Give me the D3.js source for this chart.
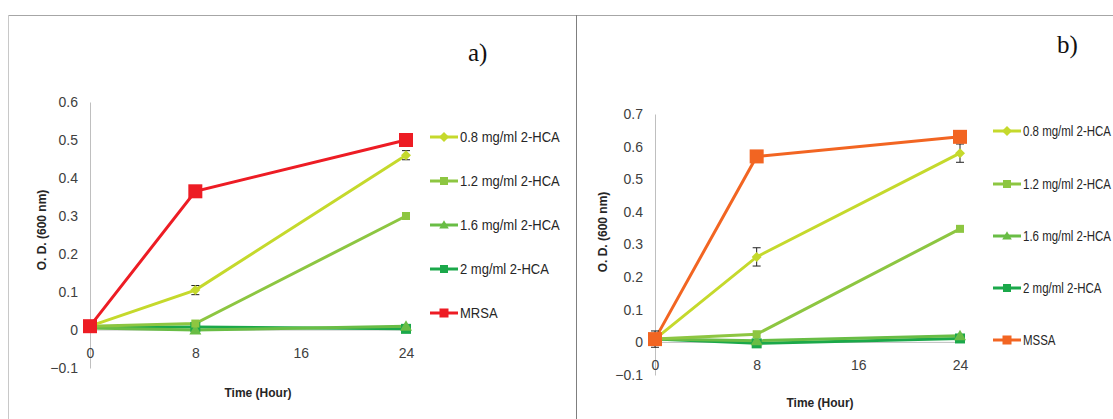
<!DOCTYPE html>
<meta charset="utf-8">
<style>
body { margin: 0; background: #fff; }
.tick text { font-family: "Liberation Sans Narrow", "Arial Narrow", "Liberation Sans", sans-serif; font-size: 14px; fill: #404040; }
.lab { font-family: "Liberation Sans", Arial, sans-serif; font-weight: bold; font-size: 12px; fill: #262626; }
.leg { font-family: "Liberation Sans Narrow", "Arial Narrow", "Liberation Sans", sans-serif; font-size: 14px; fill: #262626; }
.panel { font-family: "Liberation Serif", "Times New Roman", serif; font-size: 25px; fill: #111; }
</style>
<body>
<div id="plotHere"></div>
<script src="https://cdn.jsdelivr.net/npm/d3@7/dist/d3.min.js"></script>
<script>
//------------------------ DATA ------------------------//
const hours = [0, 8, 24];
const xTicks = [0, 8, 16, 24];
const seriesNames = ["0.8 mg/ml 2-HCA", "1.2 mg/ml 2-HCA", "1.6 mg/ml 2-HCA", "2 mg/ml 2-HCA"];

// panel a (MRSA)
const a_08 = [0.010, 0.105, 0.460];
const a_12 = [0.010, 0.017, 0.300];
const a_16 = [0.005, 0.000, 0.010];
const a_20 = [0.008, 0.008, 0.003];
const a_ctrl = [0.010, 0.365, 0.500];
const a_err08 = [0, 0.012, 0.012];
const a_yTicks = [-0.1, 0, 0.1, 0.2, 0.3, 0.4, 0.5, 0.6];

// panel b (MSSA)
const b_08 = [0.010, 0.262, 0.580];
const b_12 = [0.010, 0.025, 0.348];
const b_16 = [0.010, 0.005, 0.020];
const b_20 = [0.010, -0.003, 0.012];
const b_ctrl = [0.010, 0.570, 0.630];
const b_err08 = [0, 0.028, 0.028];
const b_errCtrl = [0.025, 0, 0];
const b_yTicks = [-0.1, 0, 0.1, 0.2, 0.3, 0.4, 0.5, 0.6, 0.7];

//------------------------ SVG ------------------------//
const W = 1113, H = 419;
const svg = d3.select("#plotHere").append("svg")
    .attr("width", W).attr("height", H);

// frame lines
svg.append("line").attr("x1", 8).attr("x2", W).attr("y1", 15.5).attr("y2", 15.5)
    .attr("stroke", "#a6a6a6");
svg.append("line").attr("x1", 8.5).attr("x2", 8.5).attr("y1", 15).attr("y2", H)
    .attr("stroke", "#c8c8c8");
svg.append("line").attr("x1", 576.5).attr("x2", 576.5).attr("y1", 15).attr("y2", H)
    .attr("stroke", "#7f7f7f");

const colors = ["#c5d92c", "#8dc641", "#69bd45", "#1ba84a"];
const markers = ["diamond", "square", "triangle", "square"];
const mSize = [5, 8, 10, 10];

function drawMarker(g, type, cx, cy, s, color) {
  if (type === "square") {
    g.append("rect").attr("x", cx - s / 2).attr("y", cy - s / 2)
      .attr("width", s).attr("height", s).attr("fill", color);
  } else if (type === "diamond") {
    g.append("path").attr("d", `M${cx},${cy - s}L${cx + s},${cy}L${cx},${cy + s}L${cx - s},${cy}Z`)
      .attr("fill", color);
  } else {
    g.append("path").attr("d", `M${cx},${cy - s * 0.6}L${cx + s * 0.6},${cy + s * 0.45}L${cx - s * 0.6},${cy + s * 0.45}Z`)
      .attr("fill", color);
  }
}

function panel(cfg) {
  const x = d3.scaleLinear().domain([0, 24]).range([cfg.x0, cfg.x1]);
  const y = d3.scaleLinear().domain([-0.1, cfg.yMax]).range([cfg.yBot, cfg.yTop]);
  const g = svg.append("g");

  // y axis
  const ya = g.append("g").attr("transform", `translate(${cfg.x0},0)`)
    .call(d3.axisLeft(y).tickValues(cfg.yTicks).tickSize(0).tickPadding(12)
      .tickFormat(d => Math.abs(d) < 1e-9 ? "0" : d3.format(".1f")(d)));
  ya.select(".domain").attr("stroke", "#bfbfbf");

  // zero line
  g.append("line").attr("x1", cfg.x0).attr("x2", x(24)).attr("y1", y(0)).attr("y2", y(0))
    .attr("stroke", "#bfbfbf");

  // x tick labels under the zero line
  const xa = g.append("g").attr("transform", `translate(0,${y(0)})`)
    .call(d3.axisBottom(x).tickValues(xTicks).tickSize(0).tickPadding(cfg.xPad));
  xa.select(".domain").remove();

  const line = d3.line().x((d, i) => x(hours[i])).y(d => y(d));
  const all = cfg.series.concat([cfg.ctrl]);
  const cols = colors.concat([cfg.ctrlColor]);
  const mk = markers.concat(["square"]);
  const ms = mSize.concat([14]);

  // draw lines from back to front
  const order = [3, 2, 1, 0, 4];
  order.forEach(k => {
    g.append("path").datum(all[k]).attr("d", line)
      .attr("fill", "none").attr("stroke", cols[k]).attr("stroke-width", 3);
  });

  // error bars
  function errBars(vals, errs) {
    vals.forEach((v, i) => {
      if (!errs[i]) return;
      const cx = x(hours[i]);
      const lo = y(v - errs[i]), hi = y(v + errs[i]);
      g.append("line").attr("x1", cx).attr("x2", cx).attr("y1", lo).attr("y2", hi).attr("stroke", "#222");
      g.append("line").attr("x1", cx - 4).attr("x2", cx + 4).attr("y1", lo).attr("y2", lo).attr("stroke", "#222");
      g.append("line").attr("x1", cx - 4).attr("x2", cx + 4).attr("y1", hi).attr("y2", hi).attr("stroke", "#222");
    });
  }
  errBars(all[0], cfg.err08);
  if (cfg.errCtrl) errBars(cfg.ctrl, cfg.errCtrl);

  order.forEach(k => {
    all[k].forEach((v, i) => drawMarker(g, mk[k], x(hours[i]), y(v), ms[k], cols[k]));
  });

  // axis titles
  g.append("text").attr("class", "lab")
    .attr("transform", `translate(${cfg.yLabX},${cfg.yLabY}) rotate(-90)`)
    .attr("text-anchor", "middle").text("O. D. (600 nm)");
  g.append("text").attr("class", "lab")
    .attr("x", cfg.xLabX).attr("y", cfg.xLabY).attr("text-anchor", "middle").text("Time (Hour)");

  // panel letter
  g.append("text").attr("class", "panel").attr("x", cfg.letterX).attr("y", cfg.letterY)
    .text(cfg.letter);

  // legend
  const names = seriesNames.concat([cfg.ctrlName]);
  names.forEach((n, k) => {
    const ly = cfg.legY[k];
    g.append("line").attr("x1", cfg.legX).attr("x2", cfg.legX + 28).attr("y1", ly).attr("y2", ly)
      .attr("stroke", cols[k]).attr("stroke-width", 3);
    drawMarker(g, mk[k], cfg.legX + 14, ly, k === 4 ? 9 : Math.min(ms[k], 8), cols[k]);
    g.append("text").attr("class", "leg")
      .attr("transform", `translate(${cfg.legX + 30},${ly + 5}) scale(${cfg.legScale},1)`)
      .text(n);
  });
}

panel({
  x0: 90, x1: 406, yTop: 102, yBot: 368, yMax: 0.6, yTicks: a_yTicks,
  series: [a_08, a_12, a_16, a_20], ctrl: a_ctrl, ctrlColor: "#ed1c24", ctrlName: "MRSA",
  err08: a_err08, xPad: 18,
  yLabX: 46, yLabY: 230, xLabX: 258, xLabY: 397,
  letter: "a)", letterX: 468, letterY: 61,
  legX: 430, legY: [137, 181, 225, 269, 313], legScale: 0.93
});

panel({
  x0: 655, x1: 960, yTop: 114, yBot: 375, yMax: 0.7, yTicks: b_yTicks,
  series: [b_08, b_12, b_16, b_20], ctrl: b_ctrl, ctrlColor: "#f26522", ctrlName: "MSSA",
  err08: b_err08, errCtrl: b_errCtrl, xPad: 18,
  yLabX: 607, yLabY: 232, xLabX: 820, xLabY: 407,
  letter: "b)", letterX: 1057, letterY: 53,
  legX: 993, legY: [131, 184, 236, 288, 340], legScale: 0.82
});
</script>
</body>
